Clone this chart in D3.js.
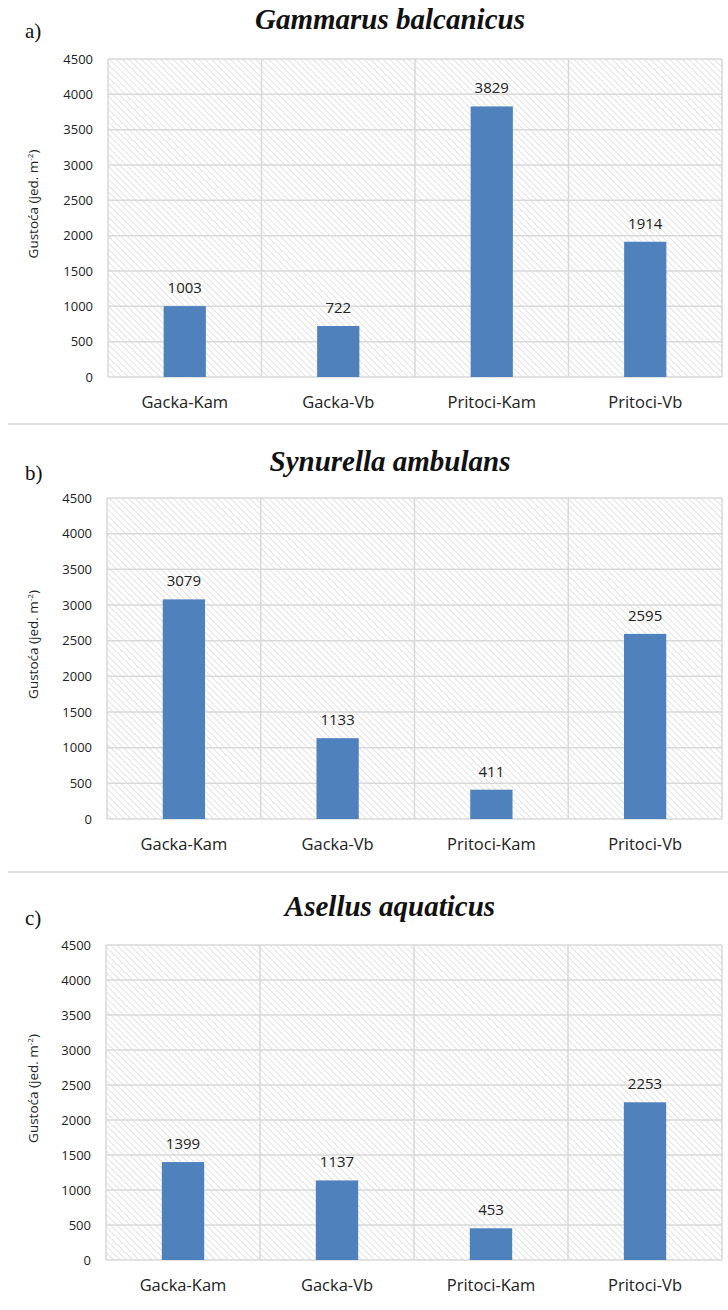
<!DOCTYPE html>
<html>
<head>
<meta charset="utf-8">
<script src="https://cdn.jsdelivr.net/npm/d3@7"></script>
<style>
  body { margin: 0; background: #fff; }
</style>
</head>
<body>
<div id="container"></div>
<script>
const categories = ['Gacka-Kam', 'Gacka-Vb', 'Pritoci-Kam', 'Pritoci-Vb'];
const gammarus = [1003, 722, 3829, 1914];
const synurella = [3079, 1133, 411, 2595];
const asellus = [1399, 1137, 453, 2253];
const titles = ['Gammarus balcanicus', 'Synurella ambulans', 'Asellus aquaticus'];
const letters = ['a)', 'b)', 'c)'];
const yTicks = [0, 500, 1000, 1500, 2000, 2500, 3000, 3500, 4000, 4500];

const w = 728;
const h = 1310;

const svg = d3.select('#container')
  .append('svg')
    .attr('width', w)
    .attr('height', h)
    .attr('viewBox', [0, 0, w, h]);

// diagonal hatch used as plot background
const defs = svg.append('defs');
const pat = defs.append('pattern')
  .attr('id', 'hatch')
  .attr('patternUnits', 'userSpaceOnUse')
  .attr('width', 4.5)
  .attr('height', 4.5)
  .attr('patternTransform', 'rotate(45)');
pat.append('rect')
  .attr('width', 4.5)
  .attr('height', 4.5)
  .attr('fill', '#fff');
pat.append('line')
  .attr('x1', 0).attr('y1', 0)
  .attr('x2', 4.5).attr('y2', 0)
  .attr('stroke', '#e2e2e2')
  .attr('stroke-width', 2);

// panel layout (plot area box + title baseline)
const panels = [
  { values: gammarus, top: 59, bottom: 377, left: 108, right: 722, titleY: 29 },
  { values: synurella, top: 498, bottom: 819, left: 107, right: 722, titleY: 471 },
  { values: asellus, top: 945, bottom: 1260, left: 106, right: 722, titleY: 916 }
];

panels.forEach((p, i) => {
  const g = svg.append('g');

  const x = d3.scaleBand()
    .domain(categories)
    .range([p.left, p.right]);

  const y = d3.scaleLinear()
    .domain([0, 4500])
    .range([p.bottom, p.top]);

  g.append('rect')
    .attr('x', p.left)
    .attr('y', p.top)
    .attr('width', p.right - p.left)
    .attr('height', p.bottom - p.top)
    .attr('fill', 'url(#hatch)');

  // horizontal gridlines
  g.selectAll('.hgrid')
    .data(yTicks)
    .enter()
    .append('line')
    .attr('x1', p.left)
    .attr('x2', p.right)
    .attr('y1', d => y(d))
    .attr('y2', d => y(d))
    .attr('stroke', '#d9d9d9')
    .attr('stroke-width', 1.5);

  // vertical gridlines at category boundaries
  const bounds = categories.map(c => x(c)).concat([p.right]);
  g.selectAll('.vgrid')
    .data(bounds)
    .enter()
    .append('line')
    .attr('x1', d => d)
    .attr('x2', d => d)
    .attr('y1', p.top)
    .attr('y2', p.bottom)
    .attr('stroke', '#d9d9d9')
    .attr('stroke-width', 1.5);

  const yAxis = d3.axisLeft(y)
    .tickValues(yTicks)
    .tickFormat(d3.format('d'))
    .tickSize(0)
    .tickPadding(15);

  g.append('g')
    .attr('transform', 'translate(' + p.left + ', 0)')
    .call(yAxis)
    .call(a => a.select('.domain').remove())
    .selectAll('text')
      .style('font-family', 'Open Sans, sans-serif')
      .style('font-size', '13px')
      .style('fill', '#222');

  const xAxis = d3.axisBottom(x)
    .tickSize(0)
    .tickPadding(19);

  g.append('g')
    .attr('transform', 'translate(0, ' + p.bottom + ')')
    .call(xAxis)
    .call(a => a.select('.domain').remove())
    .selectAll('text')
      .style('font-family', 'Open Sans, sans-serif')
      .style('font-size', '16.5px')
      .style('fill', '#222');

  const bw = x.bandwidth() * 0.275;

  g.selectAll('.bar')
    .data(p.values)
    .enter()
    .append('rect')
    .attr('x', (d, j) => x(categories[j]) + x.bandwidth() / 2 - bw / 2)
    .attr('y', d => y(d))
    .attr('width', bw)
    .attr('height', d => p.bottom - y(d))
    .attr('fill', '#4f81bd');

  g.selectAll('.val')
    .data(p.values)
    .enter()
    .append('text')
    .attr('x', (d, j) => x(categories[j]) + x.bandwidth() / 2)
    .attr('y', d => y(d) - 13)
    .attr('text-anchor', 'middle')
    .style('font-family', 'Open Sans, sans-serif')
    .style('font-size', '15px')
    .style('fill', '#222')
    .text(d => d);

  // y axis title
  const ly = (p.top + p.bottom) / 2 - 14;
  const yl = g.append('text')
    .attr('transform', 'translate(38, ' + ly + ') rotate(-90)')
    .attr('text-anchor', 'middle')
    .style('font-family', 'Open Sans, sans-serif')
    .style('font-size', '13.5px')
    .style('fill', '#222');
  yl.append('tspan').text('Gustoća (jed. m');
  yl.append('tspan').attr('dy', -5).style('font-size', '8px').text('-2');
  yl.append('tspan').attr('dy', 5).text(')');

  g.append('text')
    .attr('x', 25)
    .attr('y', p.titleY + 9)
    .style('font-family', 'Liberation Serif, serif')
    .style('font-size', '21px')
    .style('fill', '#111')
    .text(letters[i]);

  g.append('text')
    .attr('x', 390)
    .attr('y', p.titleY)
    .attr('text-anchor', 'middle')
    .style('font-family', 'Liberation Serif, serif')
    .style('font-weight', 'bold')
    .style('font-style', 'italic')
    .style('font-size', '29px')
    .style('fill', '#111')
    .text(titles[i]);
});

// separators between panels
svg.selectAll('.sep')
  .data([424, 872])
  .enter()
  .append('line')
  .attr('x1', 8)
  .attr('x2', w)
  .attr('y1', d => d)
  .attr('y2', d => d)
  .attr('stroke', '#dcdcdc')
  .attr('stroke-width', 2);
</script>
</body>
</html>
